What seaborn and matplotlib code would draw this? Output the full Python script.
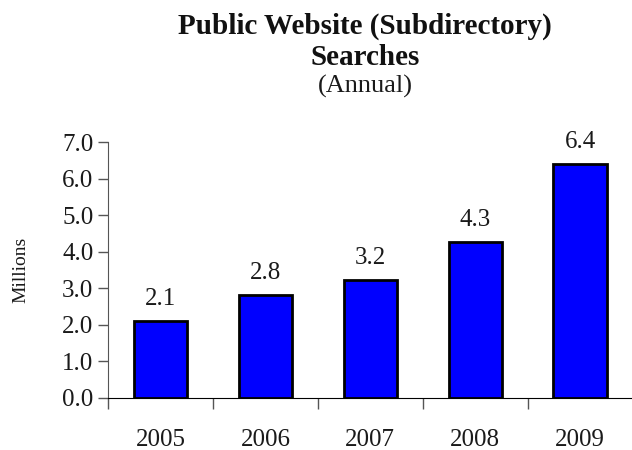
import seaborn as sns
import matplotlib.pyplot as plt
import numpy as np

years = ['2005', '2006', '2007', '2008', '2009']
searches = [2.11, 2.81, 3.22, 4.27, 6.39]
labels = ['2.1', '2.8', '3.2', '4.3', '6.4']
y_ticks = [0, 1, 2, 3, 4, 5, 6, 7]

sns.set_style('ticks')
plt.rcParams['font.family'] = ['Liberation Serif', 'DejaVu Serif']

fig = plt.figure(figsize=(6.32, 4.5), dpi=100)
ax = fig.add_axes([0.171, 0.1156, 0.83, 0.5688])

sns.barplot(x=years, y=searches, color='#0000FF', saturation=1,
            edgecolor='black', linewidth=2, width=0.51, ax=ax)

# value labels above bars
for i, (v, t) in enumerate(zip(searches, labels)):
    ax.annotate(t, (i, v), xytext=(0, 8), textcoords='offset points',
                ha='center', va='bottom', fontsize=18, color='#1a1a1a')

ax.set_ylim(0, 7)
ax.set_xlim(-0.5, 4.5)
ax.set_yticks(y_ticks)
ax.set_yticklabels([f'{v:.1f}' for v in y_ticks], fontsize=18, color='#1a1a1a')
ax.set_xticks(range(len(years)))
ax.set_xticklabels(years, fontsize=18, color='#1a1a1a')
ax.set_xticks(np.arange(-0.5, 4.5, 1), minor=True)
ax.tick_params(axis='x', which='major', length=0, pad=22)
ax.tick_params(axis='x', which='minor', length=8, width=1, color='#555555')
ax.tick_params(axis='y', length=7, width=1, color='#555555')
ax.set_ylabel('Millions', fontsize=14, color='#1a1a1a')
ax.yaxis.set_label_coords(-0.15, 0.5)
ax.set_xlabel('')

sns.despine(ax=ax, right=True, top=True)
ax.spines['left'].set_color('#555555')
ax.spines['bottom'].set_color('black')

fig.text(0.578, 0.925, 'Public Website (Subdirectory)', ha='center', va='baseline',
         fontsize=21, fontweight='bold', color='#111111')
fig.text(0.578, 0.855, 'Searches', ha='center', va='baseline',
         fontsize=21, fontweight='bold', color='#111111')
fig.text(0.578, 0.794, '(Annual)', ha='center', va='baseline',
         fontsize=19, color='#1a1a1a')

fig.savefig('out.png', dpi=100)
